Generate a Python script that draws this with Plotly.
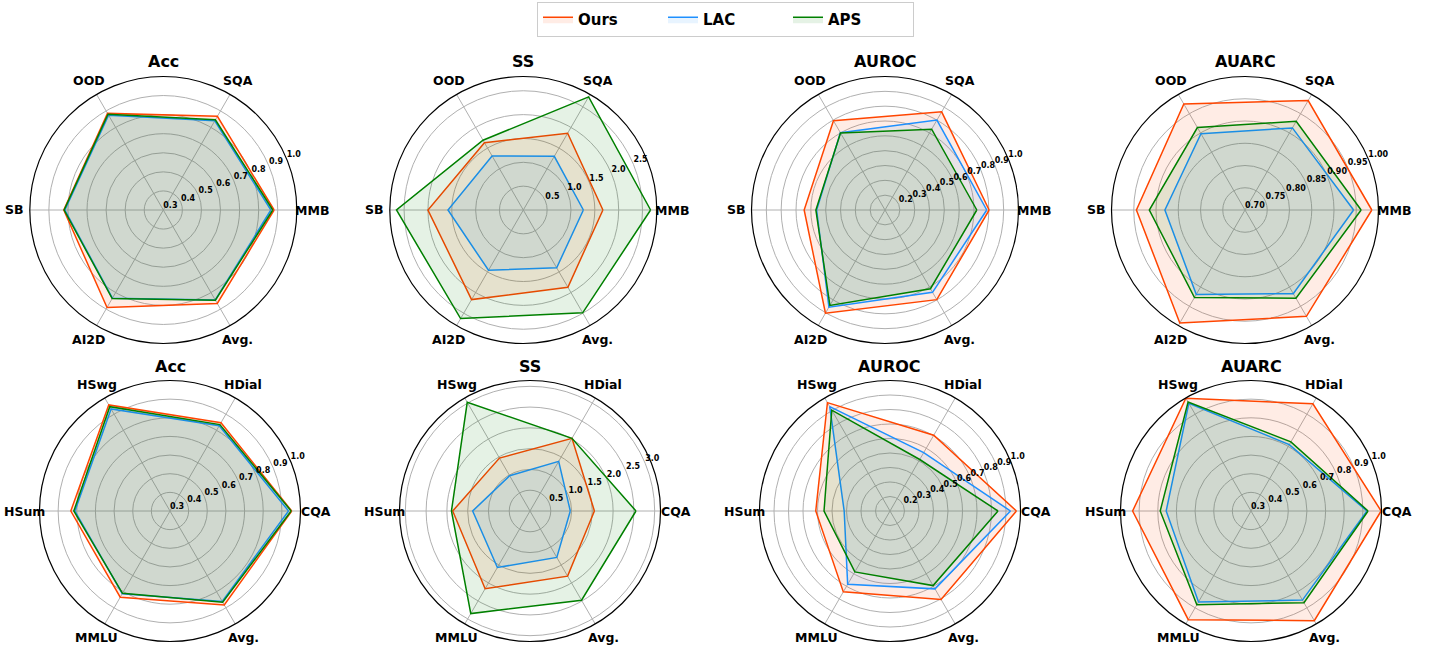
import math
import plotly.graph_objects as go

W, H = 1429, 645

# ---------------- data ----------------
cats_top = ["MMB", "SQA", "OOD", "SB", "AI2D", "Avg."]
cats_bot = ["CQA", "HDial", "HSwg", "HSum", "MMLU", "Avg."]
metrics = ["Acc", "SS", "AUROC", "AUARC"]
methods = ["Ours", "LAC", "APS"]

# top row (MMB, SQA, OOD, SB, AI2D, Avg.)
top_acc_ours = [0.881, 0.867, 0.885, 0.822, 0.890, 0.866]
top_acc_lac = [0.864, 0.840, 0.874, 0.816, 0.834, 0.845]
top_acc_aps = [0.874, 0.846, 0.880, 0.820, 0.836, 0.846]

top_ss_ours = [1.67, 1.86, 1.63, 2.00, 2.17, 1.87]
top_ss_lac = [1.26, 1.30, 1.31, 1.58, 1.46, 1.40]
top_ss_aps = [2.67, 2.74, 1.69, 2.66, 2.63, 2.49]

top_auroc_ours = [0.802, 0.864, 0.795, 0.645, 0.903, 0.798]
top_auroc_lac = [0.786, 0.800, 0.702, 0.561, 0.856, 0.741]
top_auroc_aps = [0.719, 0.729, 0.700, 0.566, 0.843, 0.713]

top_auarc_ours = [0.985, 0.984, 0.975, 0.944, 0.993, 0.976]
top_auarc_lac = [0.944, 0.913, 0.898, 0.880, 0.919, 0.917]
top_auarc_aps = [0.961, 0.930, 0.914, 0.915, 0.927, 0.929]

# bottom row (CQA, HDial, HSwg, HSum, MMLU, Avg.)
bot_acc_ours = [0.953, 0.847, 0.957, 0.832, 0.834, 0.882]
bot_acc_lac = [0.936, 0.828, 0.932, 0.810, 0.812, 0.860]
bot_acc_aps = [0.950, 0.835, 0.946, 0.816, 0.810, 0.865]

bot_ss_ours = [1.55, 2.02, 1.47, 1.86, 2.16, 1.81]
bot_ss_lac = [0.97, 1.38, 0.98, 1.38, 1.57, 1.29]
bot_ss_aps = [2.55, 2.02, 3.02, 1.89, 2.85, 2.48]

bot_auroc_ours = [0.972, 0.703, 0.963, 0.612, 0.744, 0.804]
bot_auroc_lac = [0.931, 0.565, 0.931, 0.416, 0.684, 0.720]
bot_auroc_aps = [0.845, 0.510, 0.903, 0.555, 0.585, 0.694]

bot_auarc_ours = [0.998, 0.964, 0.999, 0.935, 0.973, 0.979]
bot_auarc_lac = [0.922, 0.711, 0.967, 0.755, 0.863, 0.852]
bot_auarc_aps = [0.928, 0.728, 0.975, 0.787, 0.881, 0.868]

# radial axis settings per panel
top_ranges = [[0.3, 1.0], [0.0, 2.8], [0.1, 1.0], [0.7, 1.0]]
bot_ranges = [[0.3, 1.0], [0.0, 3.14], [0.1, 1.0], [0.3, 1.0]]
top_ticks = [[0.3, 0.4, 0.5, 0.6, 0.7, 0.8, 0.9, 1.0],
             [0.5, 1.0, 1.5, 2.0, 2.5],
             [0.2, 0.3, 0.4, 0.5, 0.6, 0.7, 0.8, 0.9, 1.0],
             [0.70, 0.75, 0.80, 0.85, 0.90, 0.95, 1.00]]
bot_ticks = [[0.3, 0.4, 0.5, 0.6, 0.7, 0.8, 0.9, 1.0],
             [0.5, 1.0, 1.5, 2.0, 2.5, 3.0],
             [0.2, 0.3, 0.4, 0.5, 0.6, 0.7, 0.8, 0.9, 1.0],
             [0.3, 0.4, 0.5, 0.6, 0.7, 0.8, 0.9, 1.0]]
top_tickfmt = [".1f", ".1f", ".1f", ".2f"]
bot_tickfmt = [".1f", ".1f", ".1f", ".1f"]

top_data = [
    [top_acc_ours, top_acc_lac, top_acc_aps],
    [top_ss_ours, top_ss_lac, top_ss_aps],
    [top_auroc_ours, top_auroc_lac, top_auroc_aps],
    [top_auarc_ours, top_auarc_lac, top_auarc_aps],
]
bot_data = [
    [bot_acc_ours, bot_acc_lac, bot_acc_aps],
    [bot_ss_ours, bot_ss_lac, bot_ss_aps],
    [bot_auroc_ours, bot_auroc_lac, bot_auroc_aps],
    [bot_auarc_ours, bot_auarc_lac, bot_auarc_aps],
]

# ---------------- style / layout ----------------
line_colors = {"Ours": "#FF4500", "LAC": "#1E90FF", "APS": "#008000"}
fill_colors = {"Ours": "rgba(255,69,0,0.1)", "LAC": "rgba(30,144,255,0.1)",
               "APS": "rgba(0,128,0,0.1)"}
FONT = "DejaVu Sans"

top_centers = [(163.3, 210), (523.3, 210), (885, 210), (1245, 210)]
bot_centers = [(170, 511), (530, 511), (890, 511), (1251, 511)]
R_TOP, R_BOT = 133.5, 130.5
LABEL_PAD = 15.5
RLABEL_ANGLE = 22.5

angles = [0, 60, 120, 180, 240, 300]

fig = go.Figure()
layout_polars = {}
annotations = []

panels = []
for i in range(4):
    panels.append((top_centers[i], R_TOP, cats_top, top_data[i], top_ranges[i],
                   top_ticks[i], top_tickfmt[i], metrics[i]))
for i in range(4):
    panels.append((bot_centers[i], R_BOT, cats_bot, bot_data[i], bot_ranges[i],
                   bot_ticks[i], bot_tickfmt[i], metrics[i]))

for k, (ctr, R, cats, series, rng, ticks, fmt, title) in enumerate(panels):
    pid = "polar" if k == 0 else f"polar{k+1}"
    cx, cy = ctr
    dom_x = [(cx - R) / W, (cx + R) / W]
    dom_y = [1 - (cy + R) / H, 1 - (cy - R) / H]
    layout_polars[pid] = dict(
        domain=dict(x=dom_x, y=dom_y),
        bgcolor="white",
        radialaxis=dict(
            range=rng, tickvals=ticks, showticklabels=False,
            angle=RLABEL_ANGLE, showline=False, ticks="",
            gridcolor="#b0b0b0", gridwidth=0.8,
        ),
        angularaxis=dict(
            rotation=0, direction="counterclockwise",
            tickmode="array", tickvals=angles, ticktext=cats,
            showticklabels=False,
            showline=True, linecolor="black", linewidth=1.2,
            gridcolor="#b0b0b0", gridwidth=0.8, ticks="",
        ),
    )
    for j, m in enumerate(methods):
        vals = series[j]
        fig.add_trace(go.Scatterpolar(
            r=vals + [vals[0]], theta=angles + [angles[0]],
            mode="lines", name=m,
            line=dict(color=line_colors[m], width=1.5),
            fill="toself", fillcolor=fill_colors[m],
            subplot=pid, showlegend=(k == 0),
        ))
    # radial tick labels along the 22.5 degree direction (matplotlib style)
    fig.add_trace(go.Scatterpolar(
        r=ticks, theta=[RLABEL_ANGLE] * len(ticks),
        mode="text", text=[format(t, fmt) for t in ticks],
        textposition="top right", cliponaxis=False,
        textfont=dict(family=FONT, size=8, color="black", weight="bold"),
        subplot=pid, showlegend=False, hoverinfo="skip",
    ))
    # category labels placed just outside the outer circle
    for a, c in zip(angles, cats):
        lx = cx + (R + LABEL_PAD) * math.cos(math.radians(a))
        ly = cy - (R + LABEL_PAD) * math.sin(math.radians(a))
        annotations.append(dict(
            x=lx / W, y=1 - ly / H, xref="paper", yref="paper",
            text=c, showarrow=False, xanchor="center", yanchor="middle",
            font=dict(family=FONT, size=12.5, color="black", weight="bold"),
        ))
    annotations.append(dict(
        x=cx / W, y=1 - (cy - R - 14.5) / H, xref="paper", yref="paper",
        text=title, showarrow=False, xanchor="center", yanchor="middle",
        font=dict(family=FONT, size=16, color="black", weight="bold"),
    ))

fig.update_layout(
    width=W, height=H,
    margin=dict(l=0, r=0, t=0, b=0),
    paper_bgcolor="white", plot_bgcolor="white",
    annotations=annotations,
    legend=dict(
        orientation="h", x=537 / W, xanchor="left", y=1 - 2 / H, yanchor="top",
        font=dict(family=FONT, size=15, color="black", weight="bold"),
        bordercolor="#cccccc", borderwidth=1, bgcolor="white",
        entrywidth=80, entrywidthmode="pixels",
    ),
    **layout_polars,
)

fig.write_html("out.html")
